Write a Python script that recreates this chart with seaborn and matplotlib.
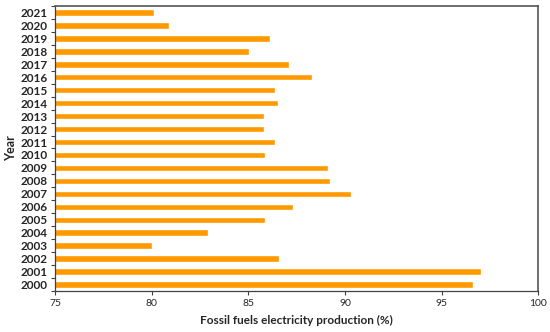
import matplotlib
matplotlib.use('Agg')
import matplotlib.pyplot as plt
import seaborn as sns
import pandas as pd
import numpy as np

years = [2000, 2001, 2002, 2003, 2004, 2005, 2006, 2007, 2008, 2009, 2010,
         2011, 2012, 2013, 2014, 2015, 2016, 2017, 2018, 2019, 2020, 2021]
fossil_share = [96.6, 97.05, 86.6, 80.0, 82.9, 85.85, 87.3, 90.3, 89.2, 89.1, 85.85,
                86.4, 85.8, 85.8, 86.55, 86.4, 88.3, 87.1, 85.05, 86.1, 80.9, 80.1]

sns.set_style('white')
plt.rcParams['font.family'] = ['Lato', 'DejaVu Sans']

df = pd.DataFrame({'Year': [str(y) for y in years], 'share': fossil_share})
order = [str(y) for y in years[::-1]]

fig = plt.figure(figsize=(5.5, 3.32), dpi=100)
ax = fig.add_axes([0.1, 0.1235, 0.879, 0.8585])
sns.barplot(data=df, x='share', y='Year', order=order, color='#ff9900',
            saturation=1, width=0.5, ax=ax)

ax.set_xlim(75, 100)
ax.set_ylim(21.5, -0.5)
ax.set_xticks([75, 80, 85, 90, 95, 100])
ax.tick_params(axis='x', labelsize=7.5, length=3, width=0.8, color='#404040',
               direction='out', bottom=True, pad=3)
ax.tick_params(axis='y', which='major', length=0, labelsize=8.5, pad=5)
ax.set_yticks(np.arange(-0.5, 22, 1), minor=True)
ax.tick_params(axis='y', which='minor', length=3, width=0.8, color='#404040',
               direction='out', left=True)
for lab in ax.get_yticklabels():
    lab.set_fontweight('bold')

for s in ['left', 'bottom']:
    ax.spines[s].set_color('#404040')
    ax.spines[s].set_linewidth(0.9)
for s in ['top', 'right']:
    ax.spines[s].set_color('#555555')
    ax.spines[s].set_linewidth(1.2)

ax.set_xlabel('Fossil fuels electricity production (%)', fontsize=8.5,
              fontweight='bold', labelpad=5)
ax.set_ylabel('Year', fontsize=9, fontweight='bold', labelpad=3)

fig.savefig('out.png', dpi=100)
